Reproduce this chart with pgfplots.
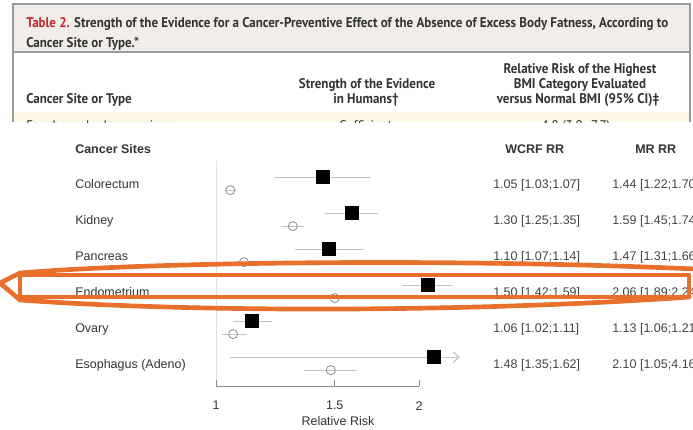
\documentclass[border=0pt]{standalone}
\usepackage{pgfplots}
\pgfplotsset{compat=1.18}
\usepackage{fontspec}
\setmainfont{Liberation Sans}
\newfontfamily\nejm{PT Sans}
\usetikzlibrary{arrows.meta}
\definecolor{txt}{HTML}{333333}
\definecolor{numtxt}{HTML}{444444}
\definecolor{nejmred}{HTML}{C0272D}
\definecolor{beige}{HTML}{F1EDE8}
\definecolor{cream}{HTML}{FDF8E6}
\definecolor{border}{HTML}{9A9A9A}
\definecolor{cicol}{HTML}{C4C4C4}
\definecolor{circ}{HTML}{8E8E8E}
\definecolor{refl}{HTML}{E2E2E2}
\definecolor{axcol}{HTML}{8A8A8A}
\definecolor{annot}{HTML}{E8702C}
\newsavebox\titlebox
\newcommand\hdfont{\nejm\bfseries\fontsize{10.5pt}{12pt}\selectfont}
\newcommand\hd[1]{\scalebox{\sx}[1]{\hdfont\color{txt}#1}}
\newcommand\hr[1]{\scalebox{\sx}[1]{\nejm\fontsize{10.5pt}{12pt}\selectfont\color{txt}#1}}
\newcommand\ft{\fontsize{9.375pt}{11pt}\selectfont\color{txt}}
\newcommand\fn{\fontsize{9.375pt}{11pt}\selectfont\color{numtxt}}
\begin{document}%
\sbox\titlebox{\hdfont Table 2. Strength of the Evidence for a Cancer-Preventive Effect of the Absence of Excess Body Fatness, According to}%
\pgfmathsetmacro\sx{481.5pt/\the\wd\titlebox}%
\begin{tikzpicture}
\begin{scope}[x=0.75pt,y=-0.75pt]
\useasboundingbox (0,0) rectangle (693,429);
\clip (0,0) rectangle (693,429);
% ---- table header screenshot ----
\fill[beige] (13,4) rectangle (690,52);
\fill[cream] (13,112) rectangle (690,122);
\draw[border, line width=1.1pt] (13,122) -- (13,4) -- (690,4) -- (690,122);
\draw[border, line width=0.8pt] (13,52) -- (690,52);
\node[anchor=base west, inner sep=0] at (26,27) {\hd{\textcolor{nejmred}{Table 2.} Strength of the Evidence for a Cancer-Preventive Effect of the Absence of Excess Body Fatness, According to}};
\node[anchor=base west, inner sep=0] at (26,47) {\hd{Cancer Site or Type.*}};
\node[anchor=base, inner sep=0] at (580,73) {\hd{Relative Risk of the Highest}};
\node[anchor=base, inner sep=0] at (580,88) {\hd{BMI Category Evaluated}};
\node[anchor=base, inner sep=0] at (578,103) {\hd{versus Normal BMI (95\% CI)‡}};
\node[anchor=base, inner sep=0] at (367,88) {\hd{Strength of the Evidence}};
\node[anchor=base, inner sep=0] at (366,103) {\hd{in Humans†}};
\node[anchor=base west, inner sep=0] at (26,103) {\hd{Cancer Site or Type}};
\begin{scope}
\clip (13,110) rectangle (690,122.5);
\node[anchor=base west, inner sep=0] at (26,130) {\hr{Esophageal adenocarcinoma}};
\node[anchor=base, inner sep=0] at (366,130) {\hr{Sufficient}};
\node[anchor=base, inner sep=0] at (576,130) {\hr{4.8 (3.0–7.7)}};
\end{scope}
% ---- forest plot texts ----
\node[anchor=base west, inner sep=0] at (75,153) {\ft\bfseries Cancer Sites};
\node[anchor=base west, inner sep=0] at (505,153) {\ft\bfseries WCRF RR};
\node[anchor=base west, inner sep=0] at (635,153) {\ft\bfseries MR RR};
\foreach \lab/\w/\m [count=\i from 0] in {Colorectum/1.05 [1.03;1.07]/1.44 [1.22;1.70],Kidney/1.30 [1.25;1.35]/1.59 [1.45;1.74],Pancreas/1.10 [1.07;1.14]/1.47 [1.31;1.66],Endometrium/1.50 [1.42;1.59]/2.06 [1.89;2.24],Ovary/1.06 [1.02;1.11]/1.13 [1.06;1.21],Esophagus (Adeno)/1.48 [1.35;1.62]/2.10 [1.05;4.16]}{
  \node[anchor=base west, inner sep=0] at (75,188+36*\i) {\ft \lab};
  \node[anchor=base west, inner sep=0] at (493,188+36*\i) {\fn \w};
  \node[anchor=base west, inner sep=0] at (612,188+36*\i) {\fn \m};
}
\node[anchor=base, inner sep=0] at (338,425) {\ft Relative Risk};
\end{scope}
% ---- forest plot ----
\begin{scope}
\clip (0,0) rectangle (519.75pt,-321.75pt);
\begin{axis}[at={(162pt,-289.5pt)}, anchor=south west, scale only axis,
  width=152.25pt, height=169.5pt,
  xmode=log, xmin=1, xmax=2, ymin=0.333, ymax=6.611, y dir=reverse,
  axis x line*=bottom, axis y line=none, clip=false,
  xtick={1,1.5,2}, xticklabels={1,1.5,2}, xminorticks=false,
  tick align=inside, major tick length=4.5pt,
  axis line style={draw=axcol, line width=0.7pt},
  tick style={draw=axcol, line width=0.7pt},
  xticklabel style={font=\ft, yshift=-8pt},
  /pgf/number format/assume math mode=true]
\addplot[draw=refl, line width=0.7pt, forget plot] coordinates {(1,0.36) (1,6.45)};
% MR confidence intervals
\addplot[draw=cicol, line width=0.9pt] coordinates {(1.22,0.81) (1.70,0.81)};
\addplot[draw=cicol, line width=0.9pt] coordinates {(1.45,1.81) (1.74,1.81)};
\addplot[draw=cicol, line width=0.9pt] coordinates {(1.31,2.81) (1.66,2.81)};
\addplot[draw=cicol, line width=0.9pt] coordinates {(1.89,3.81) (2.24,3.81)};
\addplot[draw=cicol, line width=0.9pt] coordinates {(1.06,4.81) (1.21,4.81)};
\addplot[draw=cicol, line width=0.9pt, -{Straight Barb[length=4.5pt,width=8pt]}] coordinates {(1.05,5.81) (2.30,5.81)};
% WCRF confidence intervals
\addplot[draw=cicol, line width=0.9pt] coordinates {(1.03,1.17) (1.07,1.17)};
\addplot[draw=cicol, line width=0.9pt] coordinates {(1.25,2.17) (1.35,2.17)};
\addplot[draw=cicol, line width=0.9pt] coordinates {(1.07,3.17) (1.14,3.17)};
\addplot[draw=cicol, line width=0.9pt] coordinates {(1.42,4.17) (1.59,4.17)};
\addplot[draw=cicol, line width=0.9pt] coordinates {(1.02,5.17) (1.11,5.17)};
\addplot[draw=cicol, line width=0.9pt] coordinates {(1.35,6.17) (1.62,6.17)};
% MR RR points
\addplot[only marks, mark=square*, mark size=4.9pt, draw=black, fill=black] coordinates {(1.44,0.81) (1.59,1.81) (1.47,2.81) (2.06,3.81) (1.13,4.81) (2.10,5.81)};
% WCRF RR points
\addplot[only marks, mark=o, mark size=3.4pt, draw=circ, line width=0.6pt] coordinates {(1.05,1.17) (1.30,2.17) (1.10,3.17) (1.50,4.17) (1.06,5.17) (1.48,6.17)};
\end{axis}
\end{scope}
% ---- orange annotation ----
\begin{scope}[x=0.75pt,y=-0.75pt]
\clip (0,0) rectangle (693,429);
\draw[annot, line width=3.5pt, line join=round, line cap=round] (20,297) -- (20,275) -- (689,275) -- (689,297) -- cycle;
\draw[annot, line width=3.5pt, line join=round, line cap=round] (695,269) .. controls (450,258) and (150,262) .. (20,273) -- (0,283) -- (20,300) .. controls (200,313) and (480,312) .. (689,297);
\end{scope}
\end{tikzpicture}%
\end{document}
